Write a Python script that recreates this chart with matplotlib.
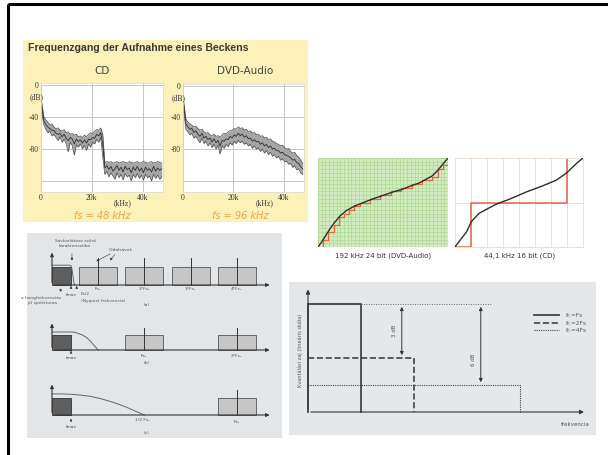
import matplotlib

matplotlib.use("Agg")
import matplotlib.pyplot as plt
import numpy as np
from matplotlib.patches import Rectangle

W, H = 608, 455

# --- cymbal recording spectra (dB), kHz ---
freq = np.linspace(0.3, 47.5, 60)
cd_upper = [-22, -40, -44, -47, -50, -49, -53, -55, -54, -57, -58, -56, -60, -59, -62,
            -61, -63, -62, -65, -64, -66, -63, -65, -62, -60, -61, -58, -56, -57, -54,
            -62, -97, -96, -97, -96, -98, -97, -96, -98, -97, -96, -97, -98, -96, -97,
            -98, -97, -96, -98, -97, -96, -97, -98, -97, -96, -98, -97, -96, -97, -98]
cd_mid = [-28, -45, -50, -53, -55, -57, -57, -61, -62, -61, -65, -62, -67, -70, -66,
          -68, -74, -68, -71, -69, -73, -69, -73, -68, -69, -66, -67, -62, -64, -60,
          -75, -104, -101, -106, -102, -108, -105, -101, -107, -103, -109, -102, -106, -104, -110,
          -103, -107, -102, -108, -104, -110, -103, -107, -105, -109, -102, -108, -104, -107, -105]
cd_lower = [-35, -50, -56, -60, -58, -64, -62, -66, -70, -65, -72, -68, -74, -84, -72,
            -76, -88, -75, -78, -74, -80, -76, -82, -74, -78, -72, -74, -68, -72, -66,
            -90, -112, -108, -115, -110, -114, -118, -110, -116, -112, -119, -111, -115, -113, -120,
            -112, -116, -111, -117, -113, -119, -112, -116, -114, -120, -112, -117, -113, -118, -115]
dvd_upper = [-20, -42, -46, -48, -50, -52, -51, -54, -56, -55, -58, -60, -59, -62, -63,
             -61, -64, -63, -65, -62, -60, -61, -58, -57, -56, -54, -55, -52, -54, -53,
             -56, -55, -58, -57, -60, -59, -62, -61, -64, -63, -66, -65, -68, -67, -70,
             -71, -73, -74, -76, -75, -78, -80, -79, -83, -85, -84, -88, -90, -94, -98]
dvd_mid = [-25, -48, -52, -55, -54, -59, -57, -61, -64, -60, -66, -64, -68, -66, -71,
           -67, -72, -69, -76, -69, -70, -67, -68, -64, -66, -62, -64, -60, -63, -61,
           -65, -63, -67, -66, -70, -68, -71, -70, -74, -72, -76, -74, -78, -76, -80,
           -79, -82, -82, -85, -84, -87, -88, -89, -91, -94, -93, -97, -98, -102, -105]
dvd_lower = [-30, -55, -58, -62, -60, -66, -64, -68, -72, -66, -73, -70, -76, -72, -78,
             -74, -80, -75, -86, -76, -79, -74, -77, -72, -75, -70, -73, -69, -72, -70,
             -74, -72, -76, -74, -79, -76, -80, -78, -83, -80, -85, -82, -87, -84, -89,
             -87, -91, -89, -94, -92, -96, -95, -99, -98, -103, -101, -106, -105, -110, -112]

# --- quantisation sketches (normalised 0..1) ---
hires_x = [0, 0.03, 0.06, 0.09, 0.13, 0.17, 0.22, 0.28, 0.35, 0.42, 0.5, 0.58, 0.65,
           0.72, 0.78, 0.83, 0.88, 0.92, 0.96, 1.0]
hires_y = [0, 0.06, 0.13, 0.2, 0.28, 0.35, 0.41, 0.46, 0.5, 0.54, 0.58, 0.62, 0.65,
           0.69, 0.72, 0.76, 0.8, 0.86, 0.93, 1.0]
hires_t = np.arange(0, 1.001, 0.04)
hires_levels = [0, 2, 4, 6, 8, 9, 10, 11, 12, 12, 13, 13, 14, 14, 15, 15, 16, 16, 17, 17,
                18, 18, 19, 21, 22, 24]
cd_x = [0, 0.01, 0.09, 0.13, 0.19, 0.32, 0.43, 0.56, 0.69, 0.79, 0.87, 0.95, 1.0]
cd_y = [0, 0.02, 0.17, 0.29, 0.38, 0.48, 0.54, 0.62, 0.69, 0.75, 0.83, 0.94, 1.0]
cd_step_x = [0, 0.125, 0.875, 1.0]
cd_step_y = [0, 0.5, 1.0, 1.0]

# --- aliasing schematic, frequencies in units of fmax ---
fmax = 1.0
fs_rates = [2.43, 4.86, 9.72]
n_images = [4, 2, 1]
image_labels = ["Fs₁", "2*Fs₁", "3*Fs₁", "4*Fs₁"]
filt_x = [[0, 0.9, 1.0, 1.05, 1.1, 1.15, 1.2],
          [0, 0.5, 1.0, 1.2, 1.4, 1.6, 1.8, 2.0, 2.2, 2.43],
          [0, 0.5, 1.0, 1.5, 2.0, 2.5, 3.0, 3.5, 4.0, 4.4, 4.86]]
filt_y = [[1.1, 1.1, 1.08, 0.9, 0.5, 0.15, 0],
          [1.2, 1.2, 1.2, 1.18, 1.1, 1.0, 0.85, 0.62, 0.33, 0],
          [1.24, 1.24, 1.22, 1.17, 1.1, 0.98, 0.82, 0.64, 0.42, 0.22, 0]]
baseline_px = [285, 350, 415]
unit_px = [18, 15, 17]

# --- oversampling noise sketch ---
oversampling = [1, 2, 4]
noise_level = [1.0, 0.5, 0.25]
noise_labels = ["fr.=Fs", "fr.=2Fs", "fr.=4Fs"]
noise_styles = ["-", "--", (0, (1, 1))]
noise_widths = [1.3, 1.2, 0.8]

fig = plt.figure(figsize=(W / 100, H / 100), dpi=100)


def px_axes(x0, y0, x1, y1):
    return fig.add_axes([x0 / W, 1 - y1 / H, (x1 - x0) / W, (y1 - y0) / H])


bg = fig.add_axes([0, 0, 1, 1])
bg.set_xlim(0, W)
bg.set_ylim(H, 0)
bg.axis("off")
bg.add_patch(Rectangle((8, 4), 620, 470, fill=False, ec="black", lw=2.2))
bg.add_patch(Rectangle((23, 40), 285, 182, fc="#fcf1b8", lw=0))
bg.add_patch(Rectangle((27, 233), 255, 205, fc="#e2e6e8", lw=0))
bg.add_patch(Rectangle((289, 282), 307, 153, fc="#e5e8ea", lw=0))

bg.text(28, 48, "Frequenzgang der Aufnahme eines Beckens", fontsize=7.6, fontweight="bold",
        family=["Liberation Sans Narrow", "Liberation Sans"], color="#3a3a3a", va="center")
bg.text(102, 71, "CD", fontsize=7.5, color="#444", ha="center", va="center")
bg.text(245, 71, "DVD-Audio", fontsize=7.5, color="#444", ha="center", va="center")
bg.text(102, 216, "fs = 48 kHz", fontsize=7, style="italic", color="#f0a53a", ha="center", va="center")
bg.text(240, 216, "fs = 96 kHz", fontsize=7, style="italic", color="#f0a53a", ha="center", va="center")
bg.text(383, 256, "192 kHz 24 bit (DVD-Audio)", fontsize=5, color="#333", ha="center", va="center")
bg.text(520, 256, "44,1 kHz 16 bit (CD)", fontsize=5, color="#333", ha="center", va="center")

serif = "Liberation Serif"
for box, upper, mid, lower in [((41, 83, 163, 192), cd_upper, cd_mid, cd_lower),
                               ((183, 84, 304, 192), dvd_upper, dvd_mid, dvd_lower)]:
    ax = px_axes(*box)
    ax.set_facecolor("white")
    ax.fill_between(freq, lower, upper, color="#a6a6a6", lw=0)
    ax.plot(freq, upper, color="#4a4a4a", lw=0.5)
    ax.plot(freq, mid, color="#222222", lw=0.55)
    ax.plot(freq, lower, color="#4a4a4a", lw=0.5)
    ax.set_xlim(0, 48)
    ax.set_ylim(-134, 2)
    ax.set_xticks([0, 20, 40])
    ax.set_xticklabels(["0", "20k", "40k"], family=serif)
    ax.set_yticks([0, -40, -80])
    ax.set_yticklabels(["0", "-40", "-80"], family=serif)
    ax.grid(color="#b9bcc9", lw=0.6)
    ax.axhline(-120, color="#b9bcc9", lw=0.6)
    ax.set_axisbelow(True)
    ax.tick_params(length=0, pad=1.5, labelsize=5.5, labelcolor="#333")
    for s in ax.spines.values():
        s.set_color("#d8d8d8")
        s.set_linewidth(0.5)
    ax.text(0.02, 0.87, "(dB)", transform=ax.transAxes, ha="right", va="center",
            family=serif, fontsize=5.5, color="#333")
    ax.text(0.67, -0.1, "(kHz)", transform=ax.transAxes, ha="center", va="center",
            family=serif, fontsize=5.5, color="#333")

# hi-res quantisation
ax = px_axes(318, 158, 448, 247)
ax.set_facecolor("#d3ebc0")
ax.plot(hires_x, hires_y, color="#2d2d2d", lw=1.0, zorder=3)
ax.step(hires_t, np.array(hires_levels) / 24, where="post", color="#e8643c", lw=0.9, zorder=2)
ax.set_xlim(0, 1)
ax.set_ylim(0, 1)
ax.set_xticks(np.linspace(0, 1, 36))
ax.set_yticks(np.linspace(0, 1, 25))
ax.grid(color="#a9d88f", lw=0.45)
ax.tick_params(length=0, labelbottom=False, labelleft=False)
for s in ax.spines.values():
    s.set_visible(False)

# CD quantisation
ax = px_axes(455, 158, 583, 247)
ax.set_facecolor("white")
ax.plot(cd_x, cd_y, color="#2d2d2d", lw=1.0, zorder=3)
ax.step(cd_step_x, cd_step_y, where="post", color="#e8604a", lw=1.1, zorder=2)
ax.set_xlim(0, 1)
ax.set_ylim(0, 1)
ax.set_xticks(np.arange(0, 1.01, 0.125))
ax.set_yticks([0, 0.5, 1])
ax.grid(color="#ebe3cc", lw=0.7)
ax.tick_params(length=0, labelbottom=False, labelleft=False)
for s in ax.spines.values():
    s.set_color("#ebe3cc")

# aliasing schematic
tkw = dict(fontsize=3.2, color="#555", ha="center", va="center")
akw = dict(arrowstyle="-|>", lw=0.4, color="#333", mutation_scale=3.5)
for i in range(3):
    b, u, fs = baseline_px[i], unit_px[i], fs_rates[i]
    ax = px_axes(30, b - 50, 280, b + 25)
    ax.set_xlim((30 - 52) / 19, (280 - 52) / 19)
    ax.set_ylim(-25 / u, 50 / u)
    ax.axis("off")
    ax.annotate("", xy=(11.6, 0), xytext=(0, 0),
                arrowprops=dict(arrowstyle="-|>", lw=0.8, color="#333", mutation_scale=5))
    ax.annotate("", xy=(0, 1.95), xytext=(0, 0),
                arrowprops=dict(arrowstyle="-|>", lw=0.8, color="#333", mutation_scale=5))
    ax.add_patch(Rectangle((0, 0), fmax, 1, fc="#5e5e5e", ec="#333", lw=0.6))
    for k in range(1, n_images[i] + 1):
        ax.add_patch(Rectangle((k * fs - fmax, 0), 2 * fmax, 1, fc="#c6c6c6", ec="#555", lw=0.6))
        ax.plot([k * fs, k * fs], [0, 1.5], color="#333", lw=0.7)
        ax.text(k * fs, -0.2 if i == 0 else -0.4, image_labels[k - 1], **tkw)
    ax.plot(filt_x[i], filt_y[i], color="#666", lw=0.7)
    ax.text(fmax, -0.55 if i < 2 else -0.7, "fmax", **tkw)
    ax.annotate("", xy=(fmax, -0.05), xytext=(fmax, -0.35 if i < 2 else -0.45), arrowprops=akw)
    if i == 0:
        ax.text(1.21, 2.3, "Sávkorlátozó szűrő\nkarakterisztika", **tkw)
        ax.annotate("", xy=(1.05, 1.2), xytext=(1.05, 1.9), arrowprops=akw)
        ax.text(3.6, 1.95, "Oldalsávok", **tkw)
        ax.annotate("", xy=(2.2, 1.25), xytext=(3.2, 1.8), arrowprops=akw)
        ax.annotate("", xy=(2.95, 1.25), xytext=(3.4, 1.8), arrowprops=akw)
        ax.text(1.74, -0.5, "Fs/2", **tkw)
        ax.text(2.7, -0.9, "(Nyquist frekvencia)", **tkw)
        ax.annotate("", xy=(1.3, -0.05), xytext=(1.3, -0.35), arrowprops=akw)
        ax.text(-0.55, -0.85, "a hangfrekvenciás\njel spektruma", **tkw)
        ax.annotate("", xy=(0.35, -0.05), xytext=(0.5, -0.4), arrowprops=akw)
        ax.text(5.0, -1.1, "(a)", **tkw)
    elif i == 1:
        ax.text(5.0, -0.85, "(b)", **tkw)
    else:
        ax.text(4.74, -0.3, "1/2 Fs₁", **tkw)
        ax.text(5.0, -1.06, "(c)", **tkw)

# oversampling noise
ax = px_axes(289, 282, 596, 435)
x0, y0, sx, sy = 308, 412, 53, 108
ax.set_xlim((289 - x0) / sx, (596 - x0) / sx)
ax.set_ylim((y0 - 435) / sy, (y0 - 282) / sy)
ax.axis("off")
for n, lvl, lab, ls, lw in zip(oversampling, noise_level, noise_labels, noise_styles, noise_widths):
    ax.plot([0, n, n], [lvl, lvl, 0], color="#444", ls=ls, lw=lw, label=lab)
ax.plot([0, 0], [0, 1], color="#444", lw=1.3)
ax.plot([1, 3.47], [1, 1], color="#666", ls=(0, (1, 1.5)), lw=0.7)
ax.annotate("", xy=(5.26, 0), xytext=(0, 0),
            arrowprops=dict(arrowstyle="-|>", lw=0.8, color="#333", mutation_scale=6))
ax.annotate("", xy=(0, 1.16), xytext=(0, 0),
            arrowprops=dict(arrowstyle="-|>", lw=0.8, color="#333", mutation_scale=6))
ax.annotate("", xy=(1.77, 0.5), xytext=(1.77, 1.0),
            arrowprops=dict(arrowstyle="<|-|>", lw=0.7, color="#333", mutation_scale=5))
ax.annotate("", xy=(3.26, 0.25), xytext=(3.26, 1.0),
            arrowprops=dict(arrowstyle="<|-|>", lw=0.7, color="#333", mutation_scale=5))
ax.text(1.63, 0.75, "3 dB", rotation=90, fontsize=4, color="#555", ha="center", va="center")
ax.text(3.12, 0.48, "6 dB", rotation=90, fontsize=4, color="#555", ha="center", va="center")
ax.text(-0.15, 0.57, "Kvantálási zaj (lineáris skála)", rotation=90, fontsize=3.6,
        color="#555", ha="center", va="center")
ax.text(5.04, -0.12, "frekvencia", fontsize=4, color="#555", ha="center", va="center")
ax.legend(loc="upper left", bbox_to_anchor=(0.79, 0.81), frameon=False, fontsize=4.2,
          handlelength=4.3, labelspacing=0.35, handletextpad=1.2, labelcolor="#555",
          borderaxespad=0)

fig.savefig("out.png", dpi=100)
